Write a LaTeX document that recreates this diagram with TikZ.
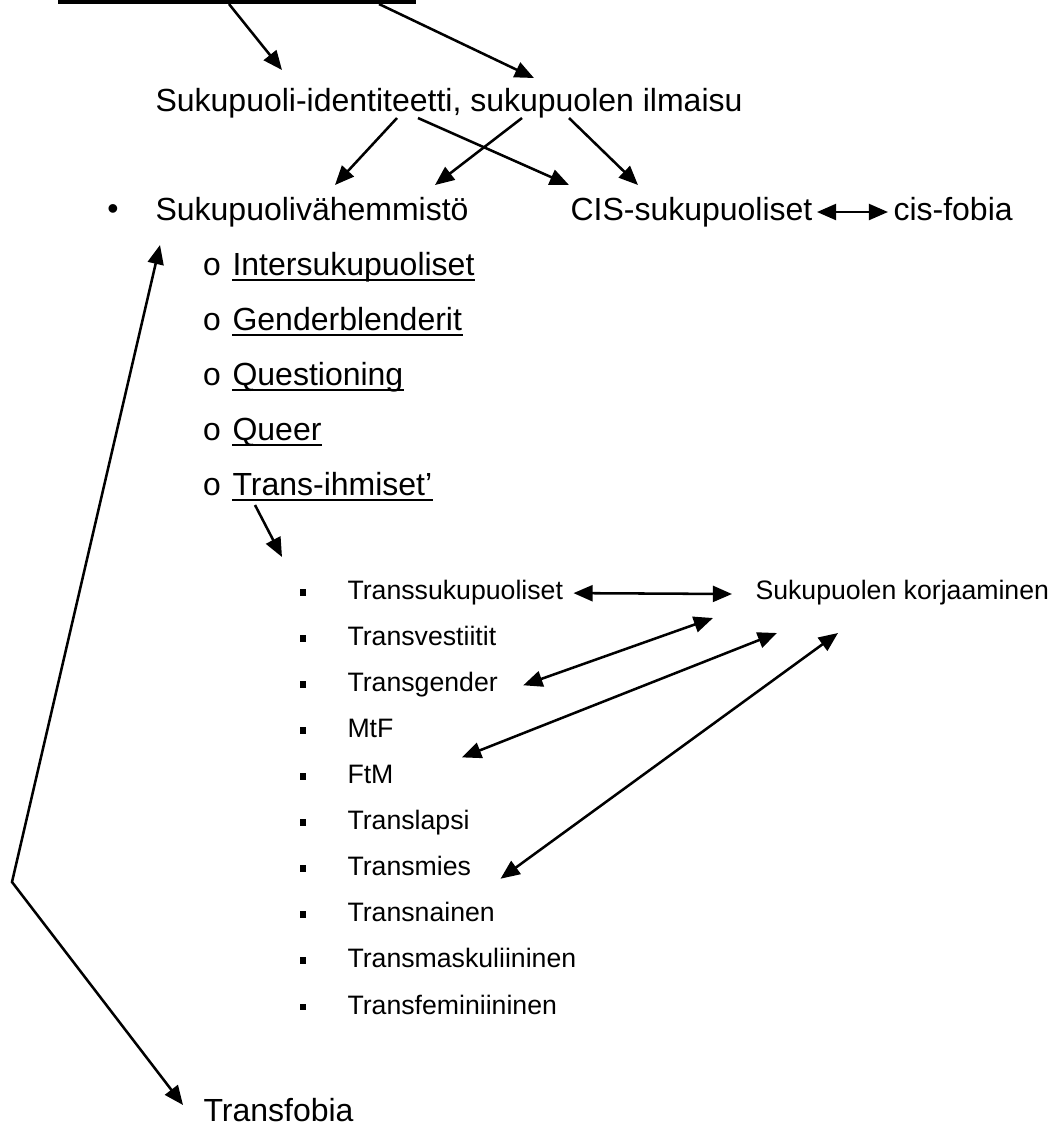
\documentclass[tikz,border=0pt]{standalone}
\usepackage{fontspec}
\setmainfont{Liberation Sans}
\newfontfamily\bulletfont{Liberation Mono}
\usetikzlibrary{arrows.meta, calc, positioning}

\begin{document}
\begin{tikzpicture}[x=0.375pt,y=-0.375pt,>={Triangle[length=7.2pt,width=6pt]},
    big/.style={anchor=base west,inner sep=0pt,font=\fontsize{12}{14}\selectfont},
    small/.style={anchor=base west,inner sep=0pt,font=\fontsize{10}{12}\selectfont},
    arr/.style={->,line width=0.95pt},
    biarr/.style={<->,line width=0.95pt},
    uline/.style={line width=1.1pt}]
    \useasboundingbox (0,0) rectangle (1050,1124);

    % heading, cut off at the top
    \fill (58,0) rectangle (416,3.5);
    \coordinate (headL) at (229,4);
    \coordinate (headR) at (379,4);

    \node[big] (id) at (155,111) {Sukupuoli-identiteetti, sukupuolen ilmaisu};
    \draw[arr] (headL) -- ([shift={(127,-41)}]id.base west);
    \draw[arr] (headR) -- ([shift={(379,-33)}]id.base west);

    % first level
    \node[inner sep=0pt,font=\fontsize{12}{14}\selectfont] (bul) at (113,212) {\textbullet};
    \node[big] (smv) at (155,220) {Sukupuolivähemmistö};
    \node[big] (cis) at (570,220) {CIS-sukupuoliset};
    \node[big] (cisf) at (893,220) {cis-fobia};
    \draw[arr] ([shift={(242,7)}]id.base west) -- ([shift={(180,-35)}]smv.base west);
    \draw[arr] ([shift={(263,7)}]id.base west) -- ([shift={(-1,-35)}]cis.base west);
    \draw[arr] ([shift={(367,7)}]id.base west) -- ([shift={(280,-35)}]smv.base west);
    \draw[arr] ([shift={(414,7)}]id.base west) -- ([shift={(68,-35)}]cis.base west);
    \draw[biarr] ([shift={(247,-8)}]cis.base west) -- ([shift={(-5,-8)}]cisf.base west);

    % second level (underlined)
    \foreach \txt [count=\i] in {Intersukupuoliset, Genderblenderit, Questioning, Queer, Trans-ihmiset’} {
        \node[big,anchor=base] (o\i) at (212,220+55*\i) {\bulletfont o};
        \node[big] (s\i) at (232,220+55*\i) {\txt};
        \draw[uline] ([shift={(0,5)}]s\i.base west) -- ([shift={(0,5)}]s\i.base east);
    }
    \draw[arr] ([shift={(23,10)}]s5.base west) -- ([shift={(50,62)}]s5.base west);

    % third level
    \foreach \txt [count=\i] in {Transsukupuoliset, Transvestiitit, Transgender, MtF, FtM,
        Translapsi, Transmies, Transnainen, Transmaskuliininen, Transfeminiininen} {
        \node[fill,inner sep=0pt,minimum size=2.6pt] (q\i) at (303,546+46.1*\i) {};
        \node[small] (t\i) at (347,553+46.1*\i) {\txt};
    }
    \node[small] (korj) at (755,599) {Sukupuolen korjaaminen};
    \draw[biarr] ([shift={(10,-6)}]t1.base east) -- ([shift={(-23,-5)}]korj.base west);
    \draw[biarr] ([shift={(25,-6)}]t3.base east) -- ([shift={(-42,19)}]korj.base west);
    \draw[biarr] ([shift={(68,20)}]t4.base east) -- ([shift={(22,34)}]korj.base west);
    \draw[biarr] ([shift={(29,3)}]t7.base east) -- ([shift={(83,34)}]korj.base west);

    % transfobia
    \node[big] (tf) at (203,1121) {Transfobia};
    \coordinate (bend) at (12,882);
    \draw[biarr] ([shift={(5,25)}]smv.base west) -- (bend) -- ([shift={(-20,-16)}]tf.base west);
\end{tikzpicture}
\end{document}
